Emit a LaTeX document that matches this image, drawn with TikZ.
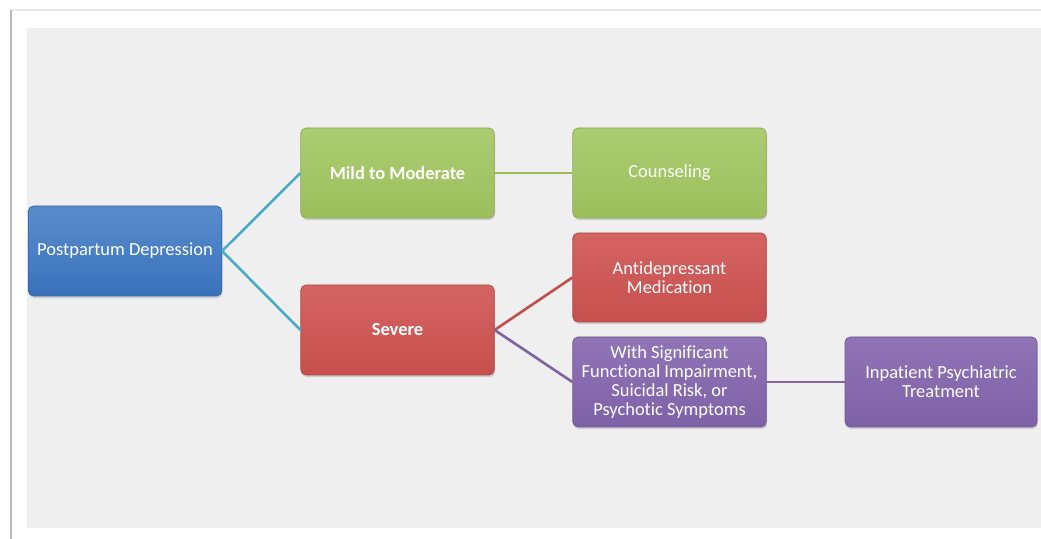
\documentclass[tikz,border=0pt]{standalone}
\usepackage{fontspec}
\setmainfont{Carlito}[Ligatures={NoCommon}]
\usetikzlibrary{shadows}
\definecolor{pdblue}{HTML}{3C78C4}
\definecolor{mildgreen}{HTML}{A2C761}
\definecolor{sevred}{HTML}{CF5351}
\definecolor{psypurple}{HTML}{8465AE}
\definecolor{lnteal}{HTML}{4BACC6}
\definecolor{lngreen}{HTML}{9BBB59}
\definecolor{lnred}{HTML}{C0504D}
\definecolor{lnpurple}{HTML}{8064A2}
\definecolor{panelgray}{HTML}{EFEFEF}
\tikzset{blk/.style={rounded corners=3pt, minimum width=3.87cm, minimum height=1.8cm, inner sep=1pt,
    align=center, text=white, font=\fontsize{10.5}{10.8}\selectfont, line width=0.4pt,
    drop shadow={opacity=0.3, shadow xshift=0.5pt, shadow yshift=-1.2pt}},
  blubox/.style={blk, draw=pdblue!85!black, top color=pdblue!85!white, bottom color=pdblue!95!black},
  grnbox/.style={blk, draw=mildgreen!85!black, top color=mildgreen!90!white, bottom color=mildgreen!96!black},
  redbox/.style={blk, draw=sevred!85!black, top color=sevred!90!white, bottom color=sevred!96!black},
  purbox/.style={blk, draw=psypurple!85!black, top color=psypurple!90!white, bottom color=psypurple!96!black},
  lnk/.style={line width=1.5pt}}

\begin{document}
\begin{tikzpicture}[x=1cm, y=1cm]
  \useasboundingbox (0,0) rectangle (20.82,-10.78);
  % page and panel
  \fill[white] (0,0) rectangle (20.82,-10.78);
  \draw[gray!18, line width=0.8pt] (0.22,-0.2) -- (20.82,-0.2);
  \draw[gray!55, line width=1pt] (0.22,-0.2) -- (0.22,-10.78);
  \fill[panelgray] (0.54,-0.56) rectangle (20.82,-10.56);
  \node[blubox] (pd) at (2.50,-5.02) {Postpartum Depression};
  \node[grnbox] (mild) at (7.95,-3.46) {\bfseries Mild to Moderate};
  \node[grnbox] (couns) at (13.39,-3.46) {Counseling};
  \node[redbox] (sev) at (7.95,-6.60) {\bfseries Severe};
  \node[redbox, minimum height=1.78cm] (med) at (13.39,-5.55) {Antidepressant\\Medication};
  \node[purbox] (impair) at (13.39,-7.64) {With Significant\\Functional Impairment,\\Suicidal Risk, or\\Psychotic Symptoms};
  \node[purbox, minimum width=3.84cm] (inpat) at (18.82,-7.64) {Inpatient Psychiatric\\Treatment};
  \draw[lnk, lnteal] (pd.east) -- (mild.west);
  \draw[lnk, lnteal] (pd.east) -- (sev.west);
  \draw[lnk, lngreen] (mild.east) -- (couns.west);
  \draw[lnk, lnred] (sev.east) -- (med.west);
  \draw[lnk, lnpurple] (sev.east) -- (impair.west);
  \draw[lnk, lnpurple] (impair.east) -- (inpat.west);
\end{tikzpicture}
\end{document}
